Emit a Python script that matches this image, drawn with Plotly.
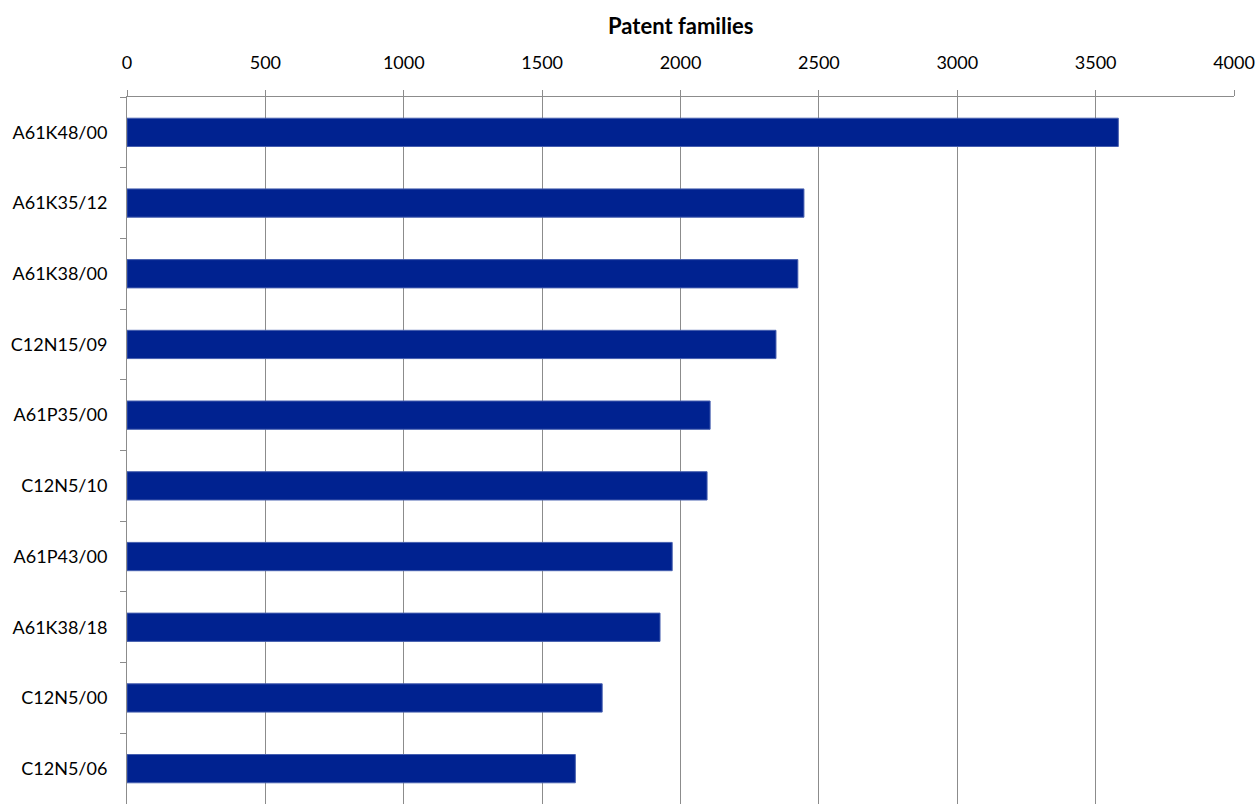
import plotly.graph_objects as go

categories = ["A61K48/00", "A61K35/12", "A61K38/00", "C12N15/09", "A61P35/00",
              "C12N5/10", "A61P43/00", "A61K38/18", "C12N5/00", "C12N5/06"]
values = [3582, 2446, 2424, 2345, 2107, 2096, 1970, 1926, 1717, 1620]
x_ticks = [0, 500, 1000, 1500, 2000, 2500, 3000, 3500, 4000]
axis_title = "Patent families"

FONT = "Lato"
GRID = "#8c8c8c"

fig = go.Figure(go.Bar(
    x=values, y=categories, orientation="h", width=0.4,
    marker=dict(color="rgb(0,34,144)", line=dict(color="rgb(70,95,175)", width=1)),
))

fig.update_layout(
    width=1257, height=804,
    margin=dict(l=127, r=23, t=97, b=0),
    paper_bgcolor="white", plot_bgcolor="white",
    font=dict(family=FONT, size=18, color="#000000"),
    showlegend=False,
    bargap=0.6,
    xaxis=dict(
        side="top", range=[0, 4000], tickvals=x_ticks,
        showgrid=True, gridcolor=GRID, gridwidth=1,
        showline=True, linecolor=GRID, linewidth=1,
        ticks="outside", ticklen=6, tickcolor=GRID,
        ticklabelstandoff=14, zeroline=False,
        tickfont=dict(family=FONT, size=18),
    ),
    yaxis=dict(
        categoryorder="array", categoryarray=categories, autorange="reversed",
        showgrid=False, showline=True, linecolor=GRID, linewidth=1,
        ticks="outside", ticklen=6, tickcolor=GRID, tickson="boundaries",
        ticklabelstandoff=15,
        tickfont=dict(family=FONT, size=18),
    ),
    annotations=[dict(
        text="<b>" + axis_title + "</b>", xref="paper", yref="paper",
        x=0.5, y=1, yshift=72, showarrow=False, yanchor="middle",
        font=dict(family=FONT, size=22),
    )],
)

fig.write_html("out.html")
